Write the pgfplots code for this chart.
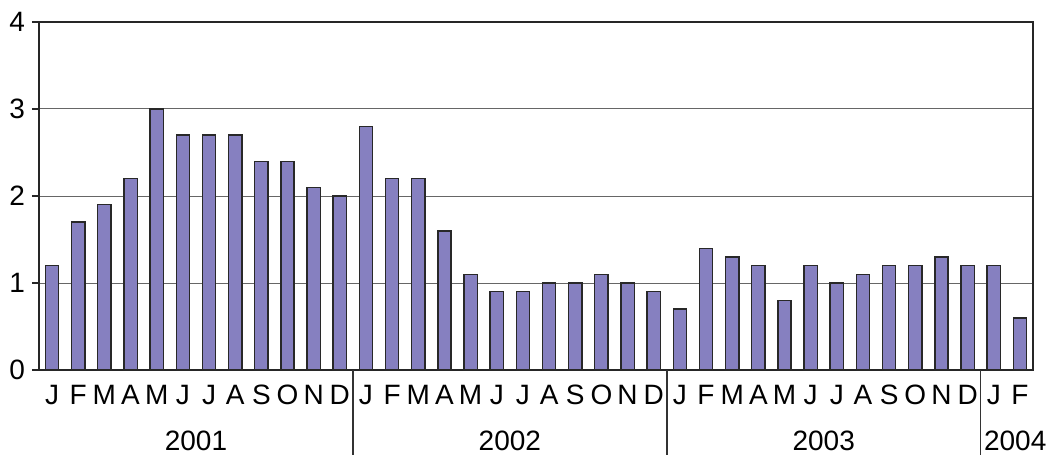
\documentclass[border=0pt]{standalone}
\usepackage{pgfplots}
\pgfplotsset{compat=1.18}
\usepackage{fontspec}
\setmainfont{Liberation Sans}
\definecolor{barfill}{RGB}{134,128,192}
\definecolor{baredge}{RGB}{40,40,40}
\pgfplotstableread{
x y
0 1.2
1 1.7
2 1.9
3 2.2
4 3.0
5 2.7
6 2.7
7 2.7
8 2.4
9 2.4
10 2.1
11 2.0
12 2.8
13 2.2
14 2.2
15 1.6
16 1.1
17 0.9
18 0.9
19 1.0
20 1.0
21 1.1
22 1.0
23 0.9
24 0.7
25 1.4
26 1.3
27 1.2
28 0.8
29 1.2
30 1.0
31 1.1
32 1.2
33 1.2
34 1.3
35 1.2
36 1.2
37 0.6
}\datatable
\begin{document}
\begin{tikzpicture}
\useasboundingbox (-19.5pt,-42.5pt) rectangle (506.5pt,185pt);
\begin{axis}[
  at={(0,0)}, anchor=south west,
  scale only axis, width=497pt, height=174pt,
  xmin=-0.5, xmax=37.5, ymin=0, ymax=4,
  clip=false,
  axis line style={draw=black!85, line width=0.7pt},
  xtick=data,
  xticklabels={J,F,M,A,M,J,J,A,S,O,N,D,J,F,M,A,M,J,J,A,S,O,N,D,J,F,M,A,M,J,J,A,S,O,N,D,J,F},
  x tick style={draw=none},
  ytick={0,1,2,3,4},
  ymajorgrids,
  grid style={draw=black!60, line width=0.5pt},
  y tick style={draw=black!85, line width=0.6pt},
  tick align=outside,
  major tick length=3.5pt,
  ytick pos=left,
  tick label style={font=\fontsize{14}{16}\selectfont},
  /pgf/number format/assume math mode=true,
  xticklabel style={yshift=-0.5pt},
  yticklabel style={xshift=0pt},
]
\addplot[ybar, bar width=6.65pt, fill=barfill, draw=baredge, line width=0.7pt] table[x=x,y=y] {\datatable};
\draw[black!80, line width=0.7pt] (axis cs:11.5,0) -- ++(0pt,-42.5pt);
\draw[black!80, line width=0.7pt] (axis cs:23.5,0) -- ++(0pt,-42.5pt);
\draw[black!80, line width=0.7pt] (axis cs:35.5,0) -- ++(0pt,-42.5pt);
\node[font=\fontsize{14}{16}\selectfont] at (axis cs:5.5,0) [yshift=-35.5pt] {2001};
\node[font=\fontsize{14}{16}\selectfont] at (axis cs:17.5,0) [yshift=-35.5pt] {2002};
\node[font=\fontsize{14}{16}\selectfont] at (axis cs:29.5,0) [yshift=-35.5pt] {2003};
\node[font=\fontsize{14}{16}\selectfont, anchor=west, inner sep=0pt] at (axis cs:35.5,0) [yshift=-35.5pt, xshift=1.5pt] {2004};
\end{axis}
\end{tikzpicture}
\end{document}
